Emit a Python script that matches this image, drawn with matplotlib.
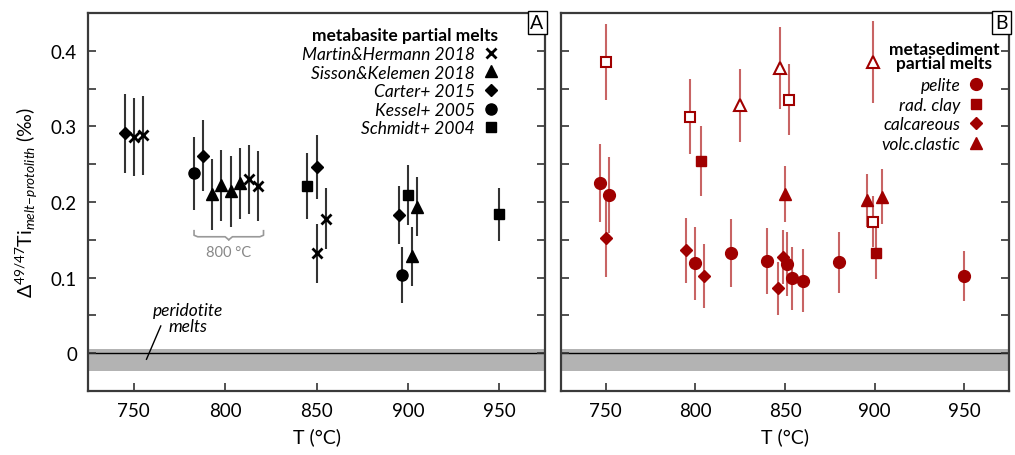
import matplotlib
matplotlib.use("Agg")
import matplotlib.pyplot as plt

plt.rcParams['font.family'] = ['Lato', 'DejaVu Sans']
plt.rcParams['mathtext.fontset'] = 'custom'
plt.rcParams['mathtext.rm'] = 'Lato'
plt.rcParams['mathtext.it'] = 'Lato:italic'
plt.rcParams['mathtext.bf'] = 'Lato:bold'

# ---- panel A: metabasite partial melts (T, delta, 2se)
mh_T = [750, 755, 813, 818, 850, 855]
mh_d = [0.286, 0.288, 0.230, 0.221, 0.132, 0.178]
mh_e = [0.051, 0.052, 0.046, 0.046, 0.039, 0.040]

sk_T = [793, 798, 803, 808, 905, 902]
sk_d = [0.210, 0.222, 0.214, 0.225, 0.194, 0.128]
sk_e = [0.047, 0.047, 0.047, 0.047, 0.039, 0.039]

ca_T = [745, 788, 850, 895]
ca_d = [0.291, 0.261, 0.246, 0.183]
ca_e = [0.052, 0.047, 0.042, 0.038]

ke_T = [783, 897]
ke_d = [0.238, 0.103]
ke_e = [0.048, 0.037]

sc_T = [845, 900, 950]
sc_d = [0.221, 0.209, 0.184]
sc_e = [0.044, 0.040, 0.035]

# ---- panel B: metasediment partial melts
pel_T = [747, 752, 800, 820, 840, 851, 854, 860, 880, 950]
pel_d = [0.225, 0.209, 0.119, 0.132, 0.122, 0.118, 0.099, 0.096, 0.120, 0.102]
pel_e = [0.052, 0.050, 0.048, 0.045, 0.044, 0.042, 0.042, 0.042, 0.040, 0.033]

rc_T = [803, 901]
rc_d = [0.254, 0.133]
rc_e = [0.046, 0.035]

calc_T = [750, 795, 805, 846, 849]
calc_d = [0.152, 0.136, 0.102, 0.086, 0.127]
calc_e = [0.051, 0.043, 0.042, 0.035, 0.036]

vc_T = [850, 896, 904]
vc_d = [0.211, 0.202, 0.207]
vc_e = [0.037, 0.035, 0.036]

rc_open_T = [750, 797, 852, 899]
rc_open_d = [0.385, 0.313, 0.335, 0.174]
rc_open_e = [0.050, 0.050, 0.047, 0.034]

vc_open_T = [825, 847, 899]
vc_open_d = [0.328, 0.377, 0.385]
vc_open_e = [0.048, 0.054, 0.054]

# 800 °C experiments group (for the brace)
grp800 = mh_T[2:4] + sk_T[:4] + ca_T[1:2] + ke_T[:1]

perid_band = (-0.024, 0.005)

red = '#a00000'

fig = plt.figure(figsize=(10.15, 4.56), dpi=100)
axA = fig.add_axes([0.0867, 0.1404, 0.4503, 0.8289])
axB = fig.add_axes([0.5527, 0.1404, 0.4414, 0.8289])


def series(ax, T, d, e, marker, color, ms, ecol, label=None, open_=False):
    ax.errorbar(T, d, yerr=e, fmt='none', ecolor=ecol, elinewidth=1.5, zorder=2)
    if open_:
        ax.plot(T, d, ls='none', marker=marker, ms=ms, mfc='white', mec=color,
                mew=1.5, zorder=3)
    else:
        ax.plot(T, d, ls='none', marker=marker, ms=ms, color=color,
                mew=2 if marker == 'x' else 1, zorder=3, label=label)


for ax in (axA, axB):
    ax.set_xlim(725, 975)
    ax.set_ylim(-0.05, 0.45)
    ax.axhspan(*perid_band, color='#b3b3b3', lw=0, zorder=0)
    ax.axhline(0, color='black', lw=1, zorder=1)
    ax.set_xticks([750, 800, 850, 900, 950])
    ax.set_yticks([0, 0.1, 0.2, 0.3, 0.4])
    ax.set_yticks([0.05, 0.15, 0.25, 0.35], minor=True)
    ax.tick_params(axis='both', which='both', direction='in', length=6,
                   width=1.2, labelsize=13.5, color='#333333', pad=8)
    ax.tick_params(axis='y', which='both', right=True)
    for s in ax.spines.values():
        s.set_linewidth(1.6)
        s.set_color('#3a3a3a')
    ax.set_xlabel('T (°C)', fontsize=14, labelpad=6)

axB.set_yticklabels([])
axA.set_yticklabels(['0', '0.1', '0.2', '0.3', '0.4'])
axA.set_ylabel(r'$\Delta^{49/47}$Ti$_{\mathit{melt\!-\!protolith}}$ (‰)',
               fontsize=14, labelpad=8)

ecA = '#333333'
series(axA, mh_T, mh_d, mh_e, 'x', 'black', 7, ecA, 'Martin&Hermann 2018')
series(axA, sk_T, sk_d, sk_e, '^', 'black', 8, ecA, 'Sisson&Kelemen 2018')
series(axA, ca_T, ca_d, ca_e, 'D', 'black', 6.5, ecA, 'Carter+ 2015')
series(axA, ke_T, ke_d, ke_e, 'o', 'black', 8, ecA, 'Kessel+ 2005')
series(axA, sc_T, sc_d, sc_e, 's', 'black', 7, ecA, 'Schmidt+ 2004')

ecB = '#c86464'
series(axB, rc_open_T, rc_open_d, rc_open_e, 's', red, 7, ecB, open_=True)
series(axB, vc_open_T, vc_open_d, vc_open_e, '^', red, 8, ecB, open_=True)
series(axB, pel_T, pel_d, pel_e, 'o', red, 8.5, ecB, 'pelite')
series(axB, rc_T, rc_d, rc_e, 's', red, 7, ecB, 'rad. clay')
series(axB, calc_T, calc_d, calc_e, 'D', red, 6.5, ecB, 'calcareous')
series(axB, vc_T, vc_d, vc_e, '^', red, 8, ecB, 'volc.clastic')

legA = axA.legend(loc='upper right', bbox_to_anchor=(0.915, 0.985), frameon=False,
                  markerfirst=False, prop={'style': 'italic', 'size': 12.5},
                  title='metabasite partial melts',
                  title_fontproperties={'weight': 'bold', 'size': 12.5},
                  handlelength=0.8, handletextpad=0.5, labelspacing=0.15,
                  borderpad=0, alignment='right')
legB = axB.legend(loc='upper right', bbox_to_anchor=(0.961, 0.853), frameon=False,
                  markerfirst=False, prop={'style': 'italic', 'size': 12.5},
                  handlelength=0.8, handletextpad=0.5, labelspacing=0.2,
                  borderpad=0)
axB.text(0.855, 0.885, 'metasediment\npartial melts', transform=axB.transAxes,
         ha='center', va='center', fontsize=12.5, fontweight='bold',
         linespacing=0.85)

for ax, lab in ((axA, 'A'), (axB, 'B')):
    ax.text(0.997, 0.997, lab, transform=ax.transAxes, ha='right', va='top',
            fontsize=14, zorder=5,
            bbox=dict(boxstyle='square,pad=0.15', fc='white', ec='black', lw=1))

# brace under 800 °C experiments
x0, x1 = min(grp800), max(grp800) + 3
xm = (x0 + x1) / 2
yb, yt = 0.162, 0.150
bc = '#999999'
axA.plot([x0, x0, x0 + 2, xm - 2, xm], [yb, yb - 0.006, yb - 0.008, yb - 0.008, yt],
         color=bc, lw=1.2)
axA.plot([x1, x1, x1 - 2, xm + 2, xm], [yb, yb - 0.006, yb - 0.008, yb - 0.008, yt],
         color=bc, lw=1.2)
axA.text(xm, 0.134, '800 °C', color='#888888', fontsize=10.5, ha='center', va='center')

axA.text(779.7, 0.046, 'peridotite\nmelts', ha='center', va='center', fontsize=12.5,
         style='italic', linespacing=1.0)
axA.plot([764.8, 757], [0.036, -0.008], color='black', lw=1, zorder=4)

fig.savefig('out.png', dpi=100)
